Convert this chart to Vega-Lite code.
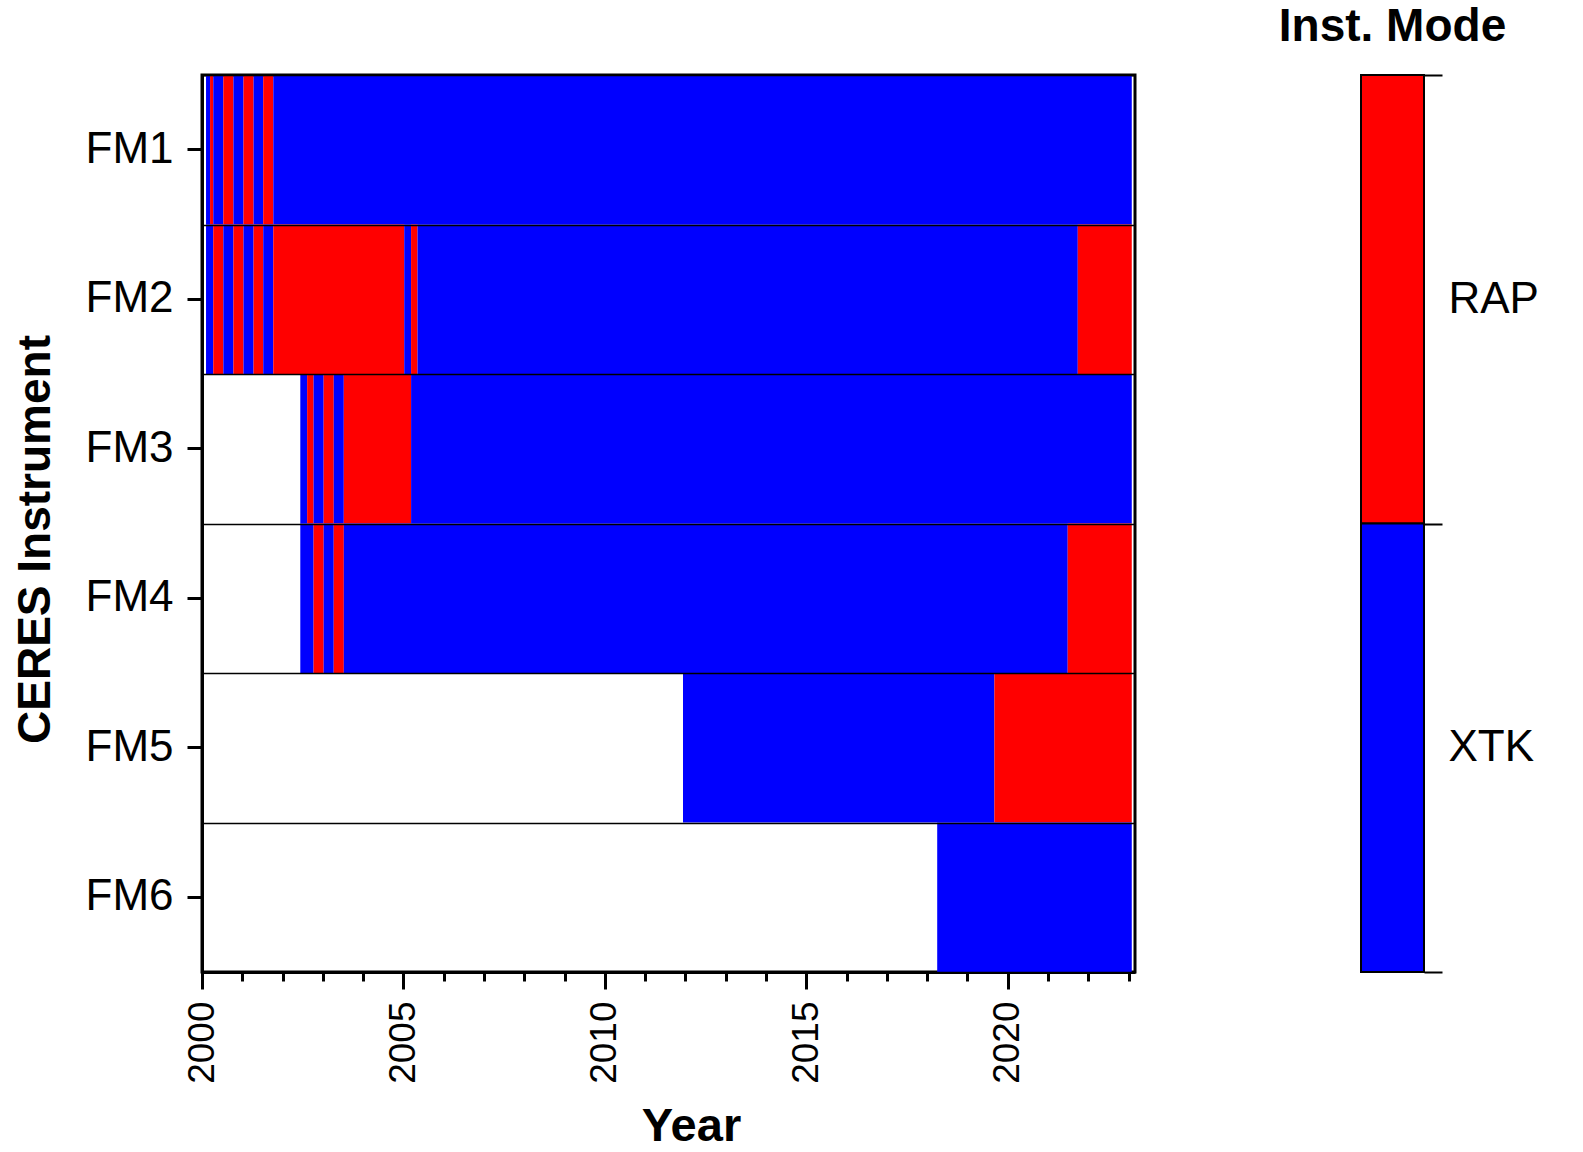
{
  "$schema": "https://vega.github.io/schema/vega-lite/v6.json",
  "background": "white",
  "padding": {"left": 10, "top": 3, "right": 5, "bottom": 0},
  "config": {
    "font": "Liberation Sans",
    "axis": {"labelColor": "black", "titleColor": "black", "tickColor": "black", "domainColor": "black", "labelFont": "Liberation Sans", "titleFont": "Liberation Sans"},
    "title": {"font": "Liberation Sans", "color": "black"}
  },
  "bounds": "flush",
  "spacing": 226,
  "hconcat": [
    {
      "width": 933,
      "height": 897,
      "view": {"stroke": "black", "strokeWidth": 3},
      "data": {"values": [
        {"inst": "FM1", "mode": "XTK", "start": 2000.10, "end": 2000.20},
        {"inst": "FM1", "mode": "RAP", "start": 2000.20, "end": 2000.28},
        {"inst": "FM1", "mode": "XTK", "start": 2000.28, "end": 2000.53},
        {"inst": "FM1", "mode": "RAP", "start": 2000.53, "end": 2000.78},
        {"inst": "FM1", "mode": "XTK", "start": 2000.78, "end": 2001.03},
        {"inst": "FM1", "mode": "RAP", "start": 2001.03, "end": 2001.28},
        {"inst": "FM1", "mode": "XTK", "start": 2001.28, "end": 2001.52},
        {"inst": "FM1", "mode": "RAP", "start": 2001.52, "end": 2001.77},
        {"inst": "FM1", "mode": "XTK", "start": 2001.77, "end": 2023.08},
        {"inst": "FM2", "mode": "XTK", "start": 2000.10, "end": 2000.28},
        {"inst": "FM2", "mode": "RAP", "start": 2000.28, "end": 2000.53},
        {"inst": "FM2", "mode": "XTK", "start": 2000.53, "end": 2000.78},
        {"inst": "FM2", "mode": "RAP", "start": 2000.78, "end": 2001.03},
        {"inst": "FM2", "mode": "XTK", "start": 2001.03, "end": 2001.28},
        {"inst": "FM2", "mode": "RAP", "start": 2001.28, "end": 2001.52},
        {"inst": "FM2", "mode": "XTK", "start": 2001.52, "end": 2001.77},
        {"inst": "FM2", "mode": "RAP", "start": 2001.77, "end": 2005.02},
        {"inst": "FM2", "mode": "XTK", "start": 2005.02, "end": 2005.19},
        {"inst": "FM2", "mode": "RAP", "start": 2005.19, "end": 2005.35},
        {"inst": "FM2", "mode": "XTK", "start": 2005.35, "end": 2021.74},
        {"inst": "FM2", "mode": "RAP", "start": 2021.74, "end": 2023.08},
        {"inst": "FM3", "mode": "XTK", "start": 2002.44, "end": 2002.61},
        {"inst": "FM3", "mode": "RAP", "start": 2002.61, "end": 2002.77},
        {"inst": "FM3", "mode": "XTK", "start": 2002.77, "end": 2003.02},
        {"inst": "FM3", "mode": "RAP", "start": 2003.02, "end": 2003.27},
        {"inst": "FM3", "mode": "XTK", "start": 2003.27, "end": 2003.52},
        {"inst": "FM3", "mode": "RAP", "start": 2003.52, "end": 2005.19},
        {"inst": "FM3", "mode": "XTK", "start": 2005.19, "end": 2023.08},
        {"inst": "FM4", "mode": "XTK", "start": 2002.44, "end": 2002.77},
        {"inst": "FM4", "mode": "RAP", "start": 2002.77, "end": 2003.02},
        {"inst": "FM4", "mode": "XTK", "start": 2003.02, "end": 2003.27},
        {"inst": "FM4", "mode": "RAP", "start": 2003.27, "end": 2003.52},
        {"inst": "FM4", "mode": "XTK", "start": 2003.52, "end": 2021.49},
        {"inst": "FM4", "mode": "RAP", "start": 2021.49, "end": 2023.08},
        {"inst": "FM5", "mode": "XTK", "start": 2011.94, "end": 2019.67},
        {"inst": "FM5", "mode": "RAP", "start": 2019.67, "end": 2023.08},
        {"inst": "FM6", "mode": "XTK", "start": 2018.25, "end": 2023.08}
      ]},
      "layer": [
        {
          "mark": {"type": "rect"},
          "encoding": {
            "y": {
              "field": "inst", "type": "nominal",
              "sort": ["FM1", "FM2", "FM3", "FM4", "FM5", "FM6"],
              "scale": {"domain": ["FM1", "FM2", "FM3", "FM4", "FM5", "FM6"], "paddingInner": 0, "paddingOuter": 0},
              "axis": {
                "title": "CERES Instrument", "titleFontSize": 46, "titleFontWeight": "bold", "titlePadding": 26, "titleY": 464,
                "labelFontSize": 44, "labelPadding": 14, "tickSize": 15, "tickWidth": 3,
                "domain": true, "domainWidth": 3, "grid": false, "labelAngle": 0
              }
            },
            "x": {
              "field": "start", "type": "quantitative",
              "scale": {"domain": [2000, 2023.16], "nice": false, "zero": false},
              "axis": {
                "title": "Year", "titleFontSize": 47, "titleFontWeight": "bold", "titlePadding": 20, "titleX": 489,
                "values": [2000, 2001, 2002, 2003, 2004, 2005, 2006, 2007, 2008, 2009, 2010, 2011, 2012, 2013, 2014, 2015, 2016, 2017, 2018, 2019, 2020, 2021, 2022, 2023],
                "format": "d",
                "labelExpr": "datum.value % 5 === 0 ? datum.label : ''",
                "labelAngle": -90, "labelFontSize": 37, "labelPadding": 12,
                "labelOverlap": false, "labelFlush": false, "labelBound": false,
                "tickSize": {"condition": {"test": "datum.value % 5 === 0", "value": 17}, "value": 9},
                "tickWidth": 3, "domain": true, "domainWidth": 3, "grid": false
              }
            },
            "x2": {"field": "end"},
            "color": {
              "field": "mode", "type": "nominal",
              "scale": {"domain": ["RAP", "XTK"], "range": ["#ff0000", "#0000ff"]},
              "legend": null
            }
          }
        },
        {
          "mark": {"type": "rect", "opacity": 0},
          "encoding": {
            "y": {
              "field": "inst", "type": "nominal",
              "sort": ["FM1", "FM2", "FM3", "FM4", "FM5", "FM6"],
              "axis": {
                "orient": "right", "title": null, "labels": false, "ticks": false, "domain": false,
                "grid": true, "tickBand": "extent", "gridColor": "black", "gridWidth": 1.3, "gridOpacity": 1, "zindex": 1
              }
            }
          }
        }
      ],
      "resolve": {"axis": {"y": "independent"}}
    },
    {
      "width": 63,
      "height": 897,
      "view": {"stroke": "black", "strokeWidth": 2},
      "title": {"text": "Inst. Mode", "fontSize": 46, "fontWeight": "bold", "anchor": "middle", "offset": 2, "color": "black"},
      "data": {"values": [{"mode": "RAP"}, {"mode": "XTK"}]},
      "mark": {"type": "rect", "stroke": "black", "strokeWidth": 2},
      "encoding": {
        "y": {
          "field": "mode", "type": "nominal", "sort": ["RAP", "XTK"],
          "scale": {"paddingInner": 0, "paddingOuter": 0},
          "axis": {
            "orient": "right", "title": null, "domain": false, "tickBand": "extent",
            "tickSize": 18, "tickWidth": 2, "labelFontSize": 44, "labelPadding": 6, "labelAngle": 0, "grid": false
          }
        },
        "color": {
          "field": "mode", "type": "nominal",
          "scale": {"domain": ["RAP", "XTK"], "range": ["#ff0000", "#0000ff"]},
          "legend": null
        }
      }
    }
  ]
}
